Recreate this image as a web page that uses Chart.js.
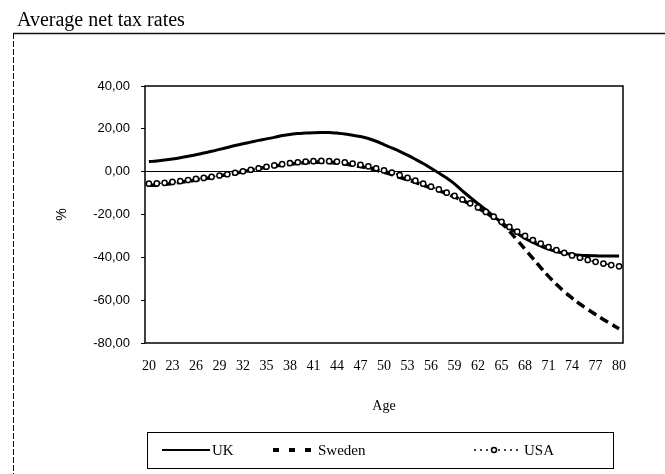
<!DOCTYPE html>
<html>
<head>
<meta charset="utf-8">
<title>Average net tax rates</title>
<script src="https://cdn.jsdelivr.net/npm/chart.js@4/dist/chart.umd.min.js"></script>
<style>
    html, body { margin: 0; padding: 0; background: #fff; }
    #wrap { position: relative; width: 665px; height: 474px; }
</style>
</head>
<body>
<div id="wrap"><canvas id="taxChart" width="665" height="474"></canvas></div>
<script>
// Ages on the category axis
const ages = [20, 21, 22, 23, 24, 25, 26, 27, 28, 29,
    30, 31, 32, 33, 34, 35, 36, 37, 38, 39,
    40, 41, 42, 43, 44, 45, 46, 47, 48, 49,
    50, 51, 52, 53, 54, 55, 56, 57, 58, 59,
    60, 61, 62, 63, 64, 65, 66, 67, 68, 69,
    70, 71, 72, 73, 74, 75, 76, 77, 78, 79, 80];

// Average net tax rates (%)
const ukRates = [4.7, 5.0, 5.4, 5.9, 6.5, 7.2, 7.9, 8.7, 9.5, 10.4,
    11.3, 12.2, 13.0, 13.8, 14.6, 15.3, 16.0, 16.9, 17.4, 17.8,
    18.0, 18.2, 18.3, 18.3, 18.0, 17.6, 17.0, 16.4, 15.5, 14.2,
    12.6, 11.1, 9.5, 7.7, 5.8, 3.8, 1.6, -0.6, -3.0, -5.7,
    -9.0, -12.0, -15.0, -17.8, -20.8, -23.7, -26.3, -28.8, -31.2, -33.0,
    -34.7, -36.2, -37.3, -38.1, -38.6, -39.0, -39.2, -39.3, -39.4, -39.4, -39.4];

const swedenRates = [-6.4, -6.2, -5.9, -5.5, -5.0, -4.5, -3.9, -3.3, -2.7, -2.0,
    -1.4, -0.7, 0.0, 0.7, 1.4, 2.0, 2.6, 3.1, 3.5, 3.9,
    4.2, 4.4, 4.4, 4.3, 4.0, 3.6, 3.0, 2.4, 1.6, 0.7,
    -0.3, -1.4, -2.6, -3.8, -5.0, -6.3, -7.6, -8.9, -10.3, -11.8,
    -13.4, -15.2, -17.1, -19.2, -21.5, -24.0, -27.8, -32.0, -36.2, -40.5,
    -44.8, -48.9, -52.6, -56.0, -59.0, -61.8, -64.3, -66.7, -69.0, -71.2, -73.3];

const usaRates = [-5.6, -5.5, -5.2, -4.8, -4.4, -3.9, -3.4, -2.9, -2.4, -1.8,
    -1.2, -0.5, 0.2, 0.9, 1.6, 2.3, 2.9, 3.5, 4.0, 4.4,
    4.7, 4.9, 5.0, 4.9, 4.7, 4.3, 3.8, 3.2, 2.5, 1.6,
    0.6, -0.4, -1.6, -2.9, -4.2, -5.6, -7.0, -8.3, -9.8, -11.3,
    -13.0, -14.8, -16.7, -18.8, -21.0, -23.4, -25.8, -28.0, -30.0, -31.9,
    -33.6, -35.2, -36.6, -37.9, -39.1, -40.2, -41.2, -42.1, -42.9, -43.6, -44.2];

const seriesNames = ['UK', 'Sweden', 'USA'];
const yTicks = [40, 20, 0, -20, -40, -60, -80];

const SERIF = '"Liberation Serif", "DejaVu Serif", serif';
const SANS = '"Liberation Sans", Arial, sans-serif';

// Title, outer frame, plot border and the boxed legend
const decorPlugin = {
    id: 'decor',
    beforeDatasetsDraw(chart) {
        const { ctx, chartArea: a } = chart;
        ctx.save();
        ctx.strokeStyle = '#000';
        ctx.lineWidth = 1.5;
        ctx.strokeRect(a.left, a.top, a.right - a.left, a.bottom - a.top);
        ctx.restore();
    },
    afterDraw(chart) {
        const { ctx, chartArea: a, width, height } = chart;
        ctx.save();

        // chart title above the frame
        ctx.fillStyle = '#000';
        ctx.font = '20px ' + SERIF;
        ctx.textBaseline = 'alphabetic';
        ctx.fillText('Average net tax rates', 17, 26);

        // outer frame (top + left edge)
        ctx.strokeStyle = '#111';
        ctx.lineWidth = 1.5;
        ctx.beginPath();
        ctx.moveTo(13, 33.5);
        ctx.lineTo(width, 33.5);
        ctx.stroke();
        ctx.lineWidth = 1;
        ctx.setLineDash([6, 2]);
        ctx.beginPath();
        ctx.moveTo(13.5, 33);
        ctx.lineTo(13.5, height);
        ctx.stroke();
        ctx.setLineDash([]);

        // legend box
        const boxL = a.left + 2, boxR = a.right - 10;
        const boxT = 432, boxB = 468;
        const midY = (boxT + boxB) / 2;
        ctx.lineWidth = 1;
        ctx.strokeStyle = '#000';
        ctx.strokeRect(boxL + 0.5, boxT + 0.5, boxR - boxL, boxB - boxT);

        ctx.font = '15px ' + SERIF;
        ctx.textBaseline = 'middle';

        // UK: solid
        let x = boxL + 15;
        ctx.lineWidth = 2;
        ctx.beginPath();
        ctx.moveTo(x, midY);
        ctx.lineTo(x + 48, midY);
        ctx.stroke();
        ctx.fillText(seriesNames[0], x + 50, midY + 1);

        // Sweden: dashed
        x = boxL + 126;
        ctx.lineWidth = 4;
        ctx.setLineDash([6, 10]);
        ctx.beginPath();
        ctx.moveTo(x, midY);
        ctx.lineTo(x + 40, midY);
        ctx.stroke();
        ctx.setLineDash([]);
        ctx.fillText(seriesNames[1], x + 45, midY + 1);

        // USA: dotted with circle
        x = boxL + 327;
        ctx.lineWidth = 1.5;
        ctx.setLineDash([2, 4]);
        ctx.beginPath();
        ctx.moveTo(x, midY);
        ctx.lineTo(x + 46, midY);
        ctx.stroke();
        ctx.setLineDash([]);
        ctx.beginPath();
        ctx.arc(x + 20, midY, 2.5, 0, Math.PI * 2);
        ctx.fillStyle = '#fff';
        ctx.fill();
        ctx.stroke();
        ctx.fillStyle = '#000';
        ctx.fillText(seriesNames[2], x + 50, midY + 1);

        ctx.restore();
    }
};

const ctx = document.getElementById('taxChart').getContext('2d');

new Chart(ctx, {
    type: 'line',
    data: {
        labels: ages,
        datasets: [
            {
                label: seriesNames[0],
                data: ukRates,
                borderColor: '#000',
                borderWidth: 3,
                pointRadius: 0,
                tension: 0.4,
                order: 1
            },
            {
                label: seriesNames[1],
                data: swedenRates,
                borderColor: '#000',
                borderWidth: 3.5,
                borderDash: [9, 5],
                pointRadius: 0,
                tension: 0.4,
                order: 2
            },
            {
                label: seriesNames[2],
                data: usaRates,
                borderColor: '#000',
                borderWidth: 1.5,
                borderDash: [2, 3],
                pointRadius: 2.6,
                pointBorderWidth: 1.5,
                pointBorderColor: '#000',
                pointBackgroundColor: '#fff',
                tension: 0.4,
                order: 0
            }
        ]
    },
    options: {
        responsive: false,
        animation: false,
        devicePixelRatio: 1,
        layout: { padding: { left: 50, right: 42, top: 86, bottom: 59 } },
        plugins: {
            legend: { display: false },
            tooltip: { enabled: false }
        },
        scales: {
            x: {
                type: 'category',
                offset: true,
                grid: { display: false, drawTicks: false },
                border: { display: false },
                ticks: {
                    color: '#000',
                    font: { family: SERIF, size: 14 },
                    padding: 15,
                    autoSkip: false,
                    maxRotation: 0,
                    callback: (val, i) => (i % 3 === 0 ? ages[i] : '')
                },
                title: {
                    display: true,
                    text: 'Age',
                    color: '#000',
                    font: { family: SERIF, size: 14 },
                    padding: 0
                },
                afterFit: (scale) => { scale.height = 72; }
            },
            y: {
                min: yTicks[yTicks.length - 1],
                max: yTicks[0],
                grid: {
                    color: (c) => (c.tick && c.tick.value === 0 ? '#000' : 'rgba(0,0,0,0)'),
                    lineWidth: 1,
                    tickColor: '#000',
                    tickLength: 4
                },
                border: { display: false },
                afterBuildTicks: (scale) => {
                    scale.ticks = yTicks.map(v => ({ value: v }));
                },
                ticks: {
                    color: '#000',
                    font: { family: SANS, size: 13 },
                    padding: 11,
                    callback: (v) => v.toFixed(2).replace('.', ',')
                },
                title: {
                    display: true,
                    text: '%',
                    color: '#000',
                    font: { family: SANS, size: 14 },
                    padding: { top: 4, bottom: 0 }
                },
                afterFit: (scale) => { scale.width = 95; }
            }
        }
    },
    plugins: [decorPlugin]
});
</script>
</body>
</html>
